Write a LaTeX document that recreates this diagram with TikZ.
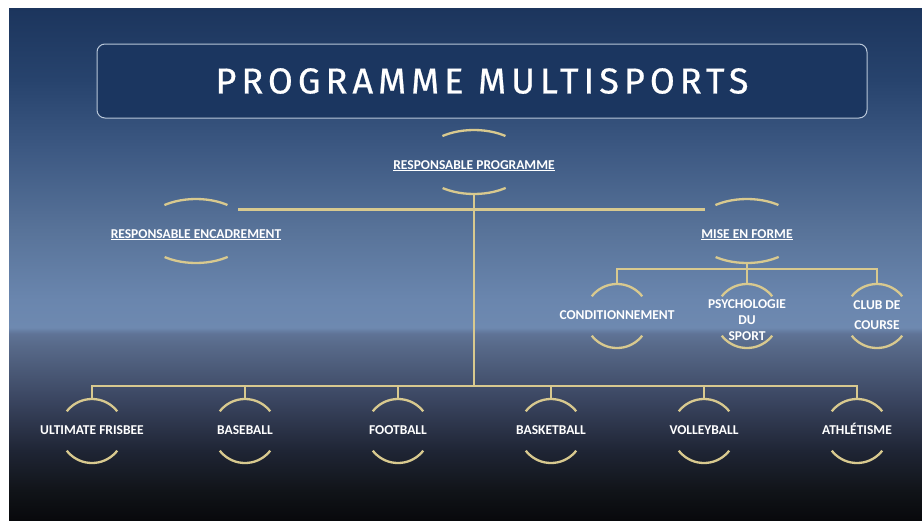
\documentclass[tikz,border=0pt]{standalone}
\usepackage{fontspec}
\usetikzlibrary{shapes.geometric}

\newfontfamily\titlefont[LetterSpace=14, FakeBold=0.6]{Fira Sans}
\newfontfamily\labelfont{Carlito}

\definecolor{gold}{HTML}{D8C98F}
\definecolor{titlefill}{HTML}{1B3660}
\definecolor{titleline}{HTML}{B9C7D9}
\definecolor{bgA}{HTML}{08090C}
\definecolor{bgB}{HTML}{111419}
\definecolor{bgC}{HTML}{1F2535}
\definecolor{bgD}{HTML}{3A4560}
\definecolor{bgE}{HTML}{586A8A}
\definecolor{bgF}{HTML}{5F7396}
\definecolor{bgG}{HTML}{6E89B0}
\definecolor{bgH}{HTML}{6A86AE}
\definecolor{bgI}{HTML}{587399}
\definecolor{bgJ}{HTML}{3D5983}
\definecolor{bgK}{HTML}{27436D}
\definecolor{bgL}{HTML}{1C355D}

\pgfdeclareverticalshading{slidebg}{100bp}{color(0bp)=(bgA); color(25bp)=(bgA);
  color(27.9bp)=(bgB); color(31.8bp)=(bgC); color(36.7bp)=(bgD); color(42.1bp)=(bgE);
  color(43.2bp)=(bgF); color(43.8bp)=(bgG); color(46.5bp)=(bgH); color(53.3bp)=(bgI);
  color(61.1bp)=(bgJ); color(68bp)=(bgK); color(75bp)=(bgL); color(100bp)=(bgL)}

% text that does not widen its node
\newcommand{\nodetext}[1]{\makebox[0pt]{\begin{tabular}{@{}c@{}}#1\end{tabular}}}

\begin{document}
\begin{tikzpicture}[x=1pt, y=-1pt, node distance=153pt,
  titlebox/.style={rectangle, rounded corners=8pt, minimum width=770pt, minimum height=74pt, fill=titlefill, draw=titleline, line width=1pt, text=white, font=\titlefont\fontsize{36}{42}\selectfont},
  head/.style={ellipse, minimum width=108pt, minimum height=64pt, inner sep=0pt, text height=15pt, text depth=0pt, draw=gold, line width=2.3pt, dash pattern=on 64.6pt off 72.8pt, dash phase=101pt, text=white, font=\labelfont\bfseries\fontsize{13.5}{16}\selectfont},
  leaf/.style={circle, minimum size=64pt, inner sep=0pt, draw=gold, line width=2.3pt, dash pattern=on 58.1pt off 42.4pt, dash phase=79.3pt, text=white, font=\labelfont\bfseries\fontsize{13.5}{16}\selectfont},
  conn/.style={draw=gold, line width=2.3pt}]
	\useasboundingbox (0,0) rectangle (922,520);
	\fill[white] (0,0) rectangle (922,520);
	\shade[shading=slidebg] (9,8) rectangle (922,520);

	\node[titlebox] (title) at (482,81) {PROGRAMME MULTISPORTS};

	\node[head] (root) at (474,162) {\nodetext{\underline{RESPONSABLE PROGRAMME}}};
	\node[head] (encadrement) at (196,231) {\nodetext{\underline{RESPONSABLE ENCADREMENT}}};
	\node[head] (forme) at (747,231) {\nodetext{\underline{MISE EN FORME}}};

	\node[leaf] (condition) at (617,316) {\nodetext{CONDITIONNEMENT}};
	\node[leaf] (psycho) [right of=condition, node distance=130pt] {\raisebox{-9pt}[0pt][0pt]{\nodetext{PSYCHOLOGIE\\DU\\SPORT}}};
	\node[leaf] (club) [right of=psycho, node distance=130pt] {\nodetext{CLUB DE\\[4pt]COURSE}};

	\node[leaf] (ultimate) at (92,431) {\nodetext{ULTIMATE FRISBEE}};
	\node[leaf] (baseball) [right of=ultimate] {\nodetext{BASEBALL}};
	\node[leaf] (football) [right of=baseball] {\nodetext{FOOTBALL}};
	\node[leaf] (basket) [right of=football] {\nodetext{BASKETBALL}};
	\node[leaf] (volley) [right of=basket] {\nodetext{VOLLEYBALL}};
	\node[leaf] (athletisme) [right of=volley] {\nodetext{ATHLÉTISME}};

	\coordinate (bus) at (474,386);
	\coordinate (subbus) at (747,269);

	\draw[conn] (root.south) -- (bus);
	\draw[conn] (encadrement.27) -- (forme.153);
	\draw[conn] (ultimate.north) |- (bus) -| (athletisme.north);
	\draw[conn] (baseball.north) -- (baseball.north |- bus);
	\draw[conn] (football.north) -- (football.north |- bus);
	\draw[conn] (basket.north) -- (basket.north |- bus);
	\draw[conn] (volley.north) -- (volley.north |- bus);
	\draw[conn] (forme.south) -- (psycho.north);
	\draw[conn] (condition.north) |- (subbus) -| (club.north);
\end{tikzpicture}
\end{document}
